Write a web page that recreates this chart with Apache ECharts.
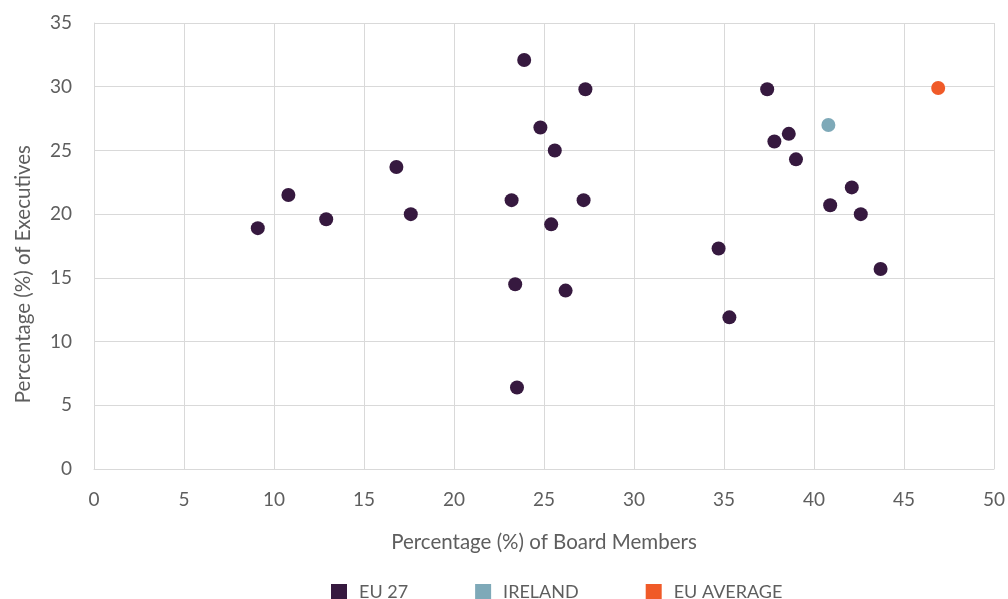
<!DOCTYPE html>
<html><head><meta charset="utf-8">
<script src="https://cdn.jsdelivr.net/npm/echarts@6/dist/echarts.min.js"></script>
<style>html,body{margin:0;padding:0;background:#fff;overflow:hidden}#c{width:1008px;height:599px}</style>
</head><body><div id="c"></div>
<script>
const seriesNames = ['EU 27', 'IRELAND', 'EU AVERAGE'];
const eu27 = [
  [9.1, 18.9], [10.8, 21.5], [12.9, 19.6], [16.8, 23.7], [17.6, 20.0],
  [23.2, 21.1], [23.4, 14.5], [23.5, 6.4], [23.9, 32.1], [24.8, 26.8],
  [25.6, 25.0], [25.4, 19.2], [26.2, 14.0], [27.2, 21.1], [27.3, 29.8],
  [34.7, 17.3], [35.3, 11.9], [37.4, 29.8], [37.8, 25.7], [38.6, 26.3],
  [39.0, 24.3], [40.9, 20.7], [42.1, 22.1], [42.6, 20.0], [43.7, 15.7]
];
const ireland = [[40.8, 27.0]];
const euAverage = [[46.9, 29.9]];
const colors = ['#36193f', '#7ea9b8', '#f05a28'];
const xTitle = 'Percentage (%) of Board Members';
const yTitle = 'Percentage (%) of Executives';

const chart = echarts.init(document.getElementById('c'), null, {renderer: 'canvas', width: 1008, height: 599});
const font = 'Lato, "Open Sans", sans-serif';
const gridCol = '#d9d9d9';
const txt = '#5e5e5e';
chart.setOption({
  animation: false,
  color: colors,
  textStyle: {fontFamily: font},
  grid: {left: 94, width: 906, top: 23, height: 446, containLabel: false},
  xAxis: {
    type: 'value', min: 0, max: 50, interval: 5,
    name: xTitle, nameLocation: 'middle', nameGap: 63,
    nameTextStyle: {fontSize: 20.5, color: txt, fontFamily: font},
    axisLine: {show: true, lineStyle: {color: gridCol, width: 1}},
    axisTick: {show: false},
    axisLabel: {fontSize: 19, color: txt, margin: 21, fontFamily: font},
    splitLine: {show: true, lineStyle: {color: gridCol, width: 1}}
  },
  yAxis: {
    type: 'value', min: 0, max: 35, interval: 5,
    axisLine: {show: true, lineStyle: {color: gridCol, width: 1}},
    axisTick: {show: false},
    axisLabel: {fontSize: 19, color: txt, margin: 22, fontFamily: font},
    splitLine: {show: true, lineStyle: {color: gridCol, width: 1}}
  },
  graphic: [{
    type: 'text', left: 13, top: 145, rotation: Math.PI / 2,
    style: {text: yTitle, fontSize: 20.5, fill: txt, fontFamily: font}
  }],
  legend: {
    top: 583, left: 331, padding: 0, itemWidth: 16, itemHeight: 16, itemGap: 67,
    icon: 'rect',
    textStyle: {fontSize: 18, color: txt, fontFamily: font, padding: [0, 0, 0, 7]},
    data: seriesNames
  },
  series: [
    {name: seriesNames[0], type: 'scatter', symbolSize: 14, itemStyle: {opacity: 1}, data: eu27},
    {name: seriesNames[1], type: 'scatter', symbolSize: 14, itemStyle: {opacity: 1}, data: ireland},
    {name: seriesNames[2], type: 'scatter', symbolSize: 14, itemStyle: {opacity: 1}, data: euAverage}
  ]
});
</script></body></html>
